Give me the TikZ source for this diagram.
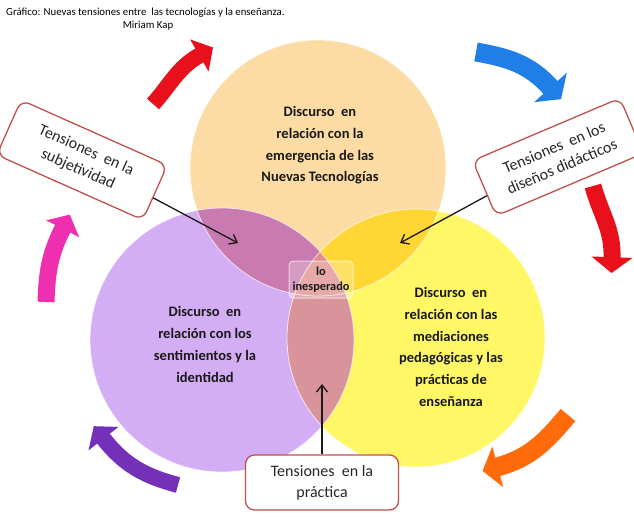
\documentclass[tikz,border=0pt]{standalone}
\usepackage{fontspec}
\setmainfont{Carlito}
\usetikzlibrary{arrows.meta,calc}
\definecolor{topc}{HTML}{FCDBA4}
\definecolor{leftc}{HTML}{D4AEF5}
\definecolor{rightc}{HTML}{FFF766}
\definecolor{tlc}{HTML}{C97AB0}
\definecolor{trc}{HTML}{FFD633}
\definecolor{lrc}{HTML}{D9939B}
\definecolor{tripc}{HTML}{DE8E8C}
\definecolor{boxc}{HTML}{C0504D}
\definecolor{ared}{HTML}{E8101A}
\definecolor{ablue}{HTML}{1F7FE6}
\definecolor{aorange}{HTML}{FF6A0A}
\definecolor{apurple}{HTML}{7430B8}
\definecolor{apink}{HTML}{EE2FB0}
% #1 colour, #2 tail, #3 out, #4 head base, #5 head dir, #6 in, #7 half width, #8 head length, #9 body width
\newcommand{\cyclearrow}[9]{%
  \draw[#1, line width=#9pt] (#2) to[out=#3, in=#6] (#4);
  \fill[#1] ($(#4)+({#5+90}:#7)+({#5+180}:0.8)$) -- ($(#4)+(#5:#8)$) -- ($(#4)+({#5-90}:#7)+({#5+180}:0.8)$) -- cycle;
}
\tikzset{
  ctext/.style={align=center, text=black!90, font=\fontsize{14.5}{21.7}\selectfont\bfseries},
  tbox/.style={draw=boxc, line width=1.3pt, fill=white, rounded corners=9pt, align=center,
    font=\fontsize{16}{20.5}\selectfont, text=black!85, inner sep=2pt},
  conn/.style={draw=black!90, line width=1.3pt, -{Straight Barb[length=7pt,width=11pt]}},
}
\begin{document}
\begin{tikzpicture}[x=1pt,y=1pt]
\useasboundingbox (0,0) rectangle (634,-517);
\fill[white] (0,0) rectangle (634,-517);

% title
\node[font=\fontsize{10.8}{13}\selectfont, anchor=west, inner sep=0pt] (title) at (6,-13) {Gráfico: Nuevas tensiones entre~~las tecnologías y la enseñanza.};
\node[font=\fontsize{10.8}{13}\selectfont, inner sep=0pt] (author) at (148,-26) {Miriam Kap};

% circles
\coordinate (ct) at (318,-168);
\coordinate (cl) at (222,-340);
\coordinate (cr) at (416,-338);
\fill[topc] (ct) circle (128);
\fill[leftc] (cl) circle (132);
\fill[rightc] (cr) circle (129);
\begin{scope}
  \clip (ct) circle (128);
  \fill[tlc] (cl) circle (132);
  \fill[trc] (cr) circle (129);
\end{scope}
\begin{scope}
  \clip (cl) circle (132);
  \fill[lrc] (cr) circle (129);
  \clip (cr) circle (129);
  \fill[tripc] (ct) circle (128);
\end{scope}
\draw[white, line width=0.8pt, opacity=0.7] (ct) circle (128) (cl) circle (132) (cr) circle (129);

% cycle arrows
\coordinate (a1t) at (153,-104); \coordinate (a1b) at (200,-55);
\coordinate (a2t) at (476,-52);  \coordinate (a2b) at (551,-88);
\coordinate (a3t) at (593,-186); \coordinate (a3b) at (612,-258);
\coordinate (a4t) at (568,-415); \coordinate (a4b) at (497,-467);
\coordinate (a5t) at (178,-485); \coordinate (a5b) at (103,-438);
\coordinate (a6t) at (46,-302);  \coordinate (a6b) at (63,-228);
\cyclearrow{ared}{a1t}{48}{a1b}{30}{210}{18.5}{15}{16}
\cyclearrow{ablue}{a2t}{-10}{a2b}{-48}{132}{22}{15}{19}
\cyclearrow{ared}{a3t}{-75}{a3b}{-92}{88}{20.5}{15}{17}
\cyclearrow{aorange}{a4t}{-130}{a4b}{-165}{15}{21}{15}{19}
\cyclearrow{apurple}{a5t}{165}{a5b}{128}{-52}{19}{15}{16}
\cyclearrow{apink}{a6t}{88}{a6b}{63}{243}{18.5}{15}{17}

% circle texts
\node[ctext] (ttop) at (320,-145.5) {Discurso~~en\\relación con la\\emergencia de las\\Nuevas Tecnologías};
\node[ctext] (tleft) at (205,-344.5) {Discurso~~en\\relación con los\\sentimientos y la\\identidad};
\node[ctext] (tright) at (451,-347) {Discurso~~en\\relación con las\\mediaciones\\pedagógicas y las\\prácticas de\\enseñanza};

% lo inesperado
\node[fill=white, fill opacity=0.25, draw=white, draw opacity=0.6, line width=1pt, rounded corners=4pt,
  minimum width=64pt, minimum height=37pt, inner sep=1pt, text opacity=1, align=center, text=black!90,
  font=\fontsize{12.3}{15}\selectfont\bfseries] (li) at (321,-279.5) {lo\\inesperado};

% tension boxes
\node[tbox, rotate=-24, minimum width=160pt, minimum height=60pt] (bl) at (82,-160) {Tensiones~~en la\\subjetividad};
\node[tbox, rotate=23, minimum width=160pt, minimum height=60pt] (br) at (558,-157) {Tensiones~~en los\\diseños didácticos};
\node[tbox, minimum width=153pt, minimum height=55pt] (bb) at (322,-482.5) {Tensiones~~en la\\práctica};

% connectors
\coordinate (pl) at (238,-243);
\coordinate (pr) at (400,-243);
\coordinate (pb) at (322,-384);
\draw[conn] (bl) -- (pl);
\draw[conn] (br) -- (pr);
\draw[conn] (bb) -- (pb);
\end{tikzpicture}
\end{document}
